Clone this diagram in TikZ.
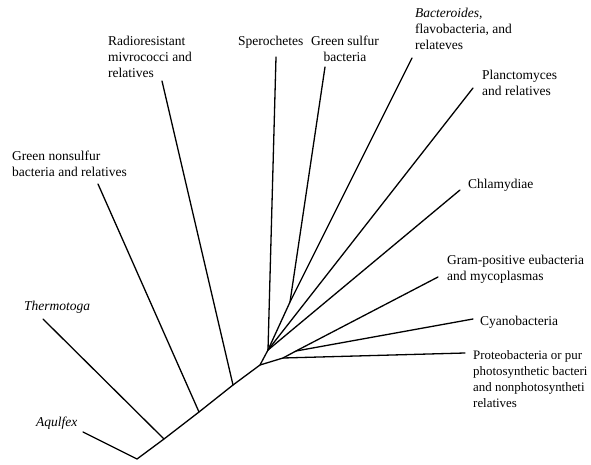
\documentclass[tikz,border=0pt]{standalone}
\usepackage{fontspec}
\setmainfont{Liberation Serif}
\begin{document}
\begin{tikzpicture}[x=1pt,y=-1pt,
  branch/.style={line width=1.3pt,line cap=round,line join=round},
  lbl/.style={inner sep=0pt,anchor=north west,align=left,font=\fontsize{13.5}{16}\selectfont},
  lblc/.style={inner sep=0pt,anchor=north,align=center,font=\fontsize{13.5}{16}\selectfont}]
\useasboundingbox[fill=white] (0,0) rectangle (591,465);
% internal nodes
\coordinate (root) at (137,459);
\coordinate (n1) at (164,439);
\coordinate (n2) at (199,412);
\coordinate (n3) at (233,385);
\coordinate (p) at (260,365);
\coordinate (q) at (268,350);
\coordinate (s) at (290,302);
\coordinate (r) at (283,358);
\coordinate (g) at (296,351);
% leaf ends
\coordinate (eAqu) at (83,432);
\coordinate (eThe) at (43,319);
\coordinate (eGns) at (98,184);
\coordinate (eRad) at (162,81);
\coordinate (eSpe) at (276,57);
\coordinate (eGsb) at (325,67);
\coordinate (eBac) at (412,58);
\coordinate (ePla) at (473,88);
\coordinate (eChl) at (460,190);
\coordinate (eGram) at (438,277);
\coordinate (eCya) at (473,319);
\coordinate (ePro) at (465,353);
% branches
\draw[branch] (eAqu) -- (root) -- (n1) -- (n2) -- (n3) -- (p) -- (q);
\draw[branch] (n1) -- (eThe);
\draw[branch] (n2) -- (eGns);
\draw[branch] (n3) -- (eRad);
\draw[branch] (q) -- (eSpe);
\draw[branch] (q) -- (s) -- (eGsb);
\draw[branch] (s) -- (eBac);
\draw[branch] (q) -- (ePla);
\draw[branch] (q) -- (eChl);
\draw[branch] (p) -- (r) -- (ePro);
\draw[branch] (r) -- (g) -- (eGram);
\draw[branch] (g) -- (eCya);
% labels
\node[lbl] (tAqu) at (36,417) {\itshape Aqulfex};
\node[lbl] (tThe) at (24,301) {\itshape Thermotoga};
\node[lbl] (tGns) at (12,151) {Green nonsulfur\\bacteria and relatives};
\node[lbl] (tRad) at (108,36) {Radioresistant\\mivrococci and\\relatives};
\node[lbl] (tSpe) at (238,36) {Sperochetes};
\node[lblc] (tGsb) at (345,36) {Green sulfur\\bacteria};
\node[lbl] (tBac) at (415,8) {\itshape Bacteroides,\\flavobacteria, and\\relateves};
\node[lbl] (tPla) at (482,70) {Planctomyces\\and relatives};
\node[lbl] (tChl) at (468,179) {Chlamydiae};
\node[lbl] (tGram) at (447,255) {Gram-positive eubacteria\\and mycoplasmas};
\node[lbl] (tCya) at (480,316) {Cyanobacteria};
\node[lbl,font=\fontsize{12.9}{16}\selectfont] (tPro) at (473,350) {Proteobacteria or pur\\photosynthetic bacteri\\and nonphotosyntheti\\relatives};
\end{tikzpicture}
\end{document}
